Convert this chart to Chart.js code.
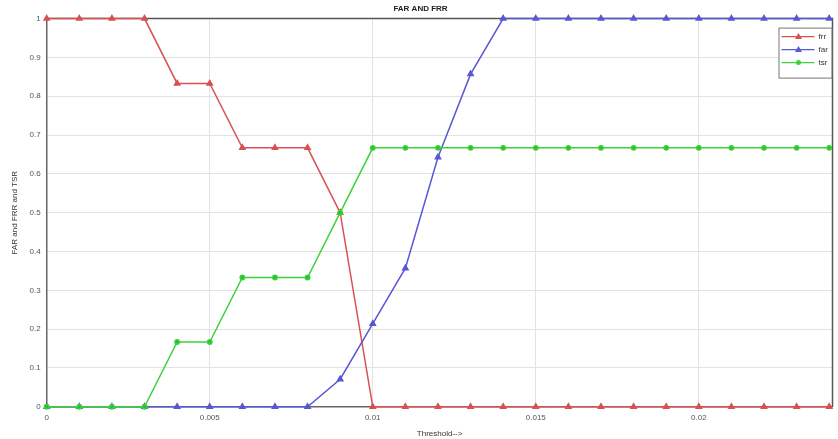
<!DOCTYPE html>
<html>
<head>
<meta charset="utf-8">
<script src="https://cdn.jsdelivr.net/npm/chart.js@4.4.1/dist/chart.umd.min.js"></script>
<style>
    html, body { margin: 0; padding: 0; background: #fff; }
    canvas { display: block; }
</style>
</head>
<body>
<canvas id="farFrrChart" width="838" height="439"></canvas>
<script>
    // threshold values along x
    const thresholds = [0, 0.001, 0.002, 0.003, 0.004, 0.005, 0.006, 0.007, 0.008, 0.009, 0.010, 0.011,
        0.012, 0.013, 0.014, 0.015, 0.016, 0.017, 0.018, 0.019, 0.020, 0.021, 0.022, 0.023, 0.024];
    const frrValues = [1, 1, 1, 1, 0.833, 0.833, 0.667, 0.667, 0.667, 0.5, 0, 0,
        0, 0, 0, 0, 0, 0, 0, 0, 0, 0, 0, 0, 0];
    const farValues = [0, 0, 0, 0, 0, 0, 0, 0, 0, 0.071, 0.214, 0.357,
        0.643, 0.857, 1, 1, 1, 1, 1, 1, 1, 1, 1, 1, 1];
    const tsrValues = [0, 0, 0, 0, 0.167, 0.167, 0.333, 0.333, 0.333, 0.5, 0.667, 0.667,
        0.667, 0.667, 0.667, 0.667, 0.667, 0.667, 0.667, 0.667, 0.667, 0.667, 0.667, 0.667, 0.667];
    const xTickValues = [0, 0.005, 0.01, 0.015, 0.02];
    const yTickValues = [0, 0.1, 0.2, 0.3, 0.4, 0.5, 0.6, 0.7, 0.8, 0.9, 1];

    const toPoints = values => values.map((v, i) => ({ x: thresholds[i], y: v }));

    Chart.defaults.font.family = '"Liberation Sans", Arial, sans-serif';
    Chart.defaults.font.size = 8;
    Chart.defaults.color = '#555';

    // matlab style legend box in the upper right corner of the plot
    const boxLegend = {
        id: 'boxLegend',
        afterDraw(chart) {
            const ctx = chart.ctx;
            const area = chart.chartArea;
            const w = 53, h = 50;
            const x0 = area.right - w - 1, y0 = area.top + 9;
            ctx.save();
            ctx.fillStyle = '#fff';
            ctx.strokeStyle = '#777';
            ctx.lineWidth = 1;
            ctx.fillRect(x0, y0, w, h);
            ctx.strokeRect(x0 + 0.5, y0 + 0.5, w, h);
            chart.data.datasets.forEach((ds, i) => {
                const y = y0 + 9 + i * 13;
                ctx.strokeStyle = ds.borderColor;
                ctx.lineWidth = 1.2;
                ctx.beginPath();
                ctx.moveTo(x0 + 3, y);
                ctx.lineTo(x0 + 36, y);
                ctx.stroke();
                ctx.fillStyle = ds.borderColor;
                ctx.beginPath();
                if (ds.pointStyle === 'triangle') {
                    ctx.moveTo(x0 + 20, y - 3.5);
                    ctx.lineTo(x0 + 23.5, y + 2.5);
                    ctx.lineTo(x0 + 16.5, y + 2.5);
                    ctx.closePath();
                } else {
                    ctx.arc(x0 + 20, y, 2.5, 0, Math.PI * 2);
                }
                ctx.fill();
                ctx.fillStyle = '#333';
                ctx.textBaseline = 'middle';
                ctx.textAlign = 'left';
                ctx.font = '8px "Liberation Sans", Arial, sans-serif';
                ctx.fillText(ds.label, x0 + 40, y);
            });
            ctx.restore();
        }
    };

    // top and right frame lines
    const boxFrame = {
        id: 'boxFrame',
        beforeDatasetsDraw(chart) {
            const ctx = chart.ctx;
            const a = chart.chartArea;
            ctx.save();
            ctx.strokeStyle = '#555';
            ctx.lineWidth = 1.5;
            ctx.beginPath();
            ctx.moveTo(a.left, a.top);
            ctx.lineTo(a.right, a.top);
            ctx.lineTo(a.right, a.bottom);
            ctx.stroke();
            ctx.restore();
        }
    };

    const ctx = document.getElementById('farFrrChart').getContext('2d');
    new Chart(ctx, {
        type: 'line',
        data: {
            datasets: [
                {
                    label: 'frr',
                    data: toPoints(frrValues),
                    borderColor: 'rgb(214, 82, 82)',
                    backgroundColor: 'rgb(214, 82, 82)',
                    borderWidth: 1.5,
                    pointStyle: 'triangle',
                    pointRadius: 3,
                    tension: 0,
                    clip: false,
                    order: 3
                },
                {
                    label: 'far',
                    data: toPoints(farValues),
                    borderColor: 'rgb(88, 88, 210)',
                    backgroundColor: 'rgb(88, 88, 210)',
                    borderWidth: 1.5,
                    pointStyle: 'triangle',
                    pointRadius: 3,
                    tension: 0,
                    clip: false,
                    order: 2
                },
                {
                    label: 'tsr',
                    data: toPoints(tsrValues),
                    borderColor: 'rgb(60, 210, 60)',
                    backgroundColor: 'rgb(40, 190, 40)',
                    borderWidth: 1.5,
                    pointStyle: 'circle',
                    pointRadius: 2.2,
                    tension: 0,
                    clip: false,
                    order: 1
                }
            ]
        },
        options: {
            responsive: false,
            animation: false,
            maintainAspectRatio: false,
            layout: {
                padding: { left: 6, right: 3, top: 0, bottom: 0 }
            },
            scales: {
                x: {
                    type: 'linear',
                    min: 0,
                    max: 0.0241,
                    afterBuildTicks: axis => {
                        axis.ticks = xTickValues.map(v => ({ value: v }));
                    },
                    ticks: {
                        autoSkip: false,
                        callback: v => String(Number(v.toFixed(3))),
                        padding: 6,
                        maxRotation: 0
                    },
                    grid: {
                        color: '#e2e2e2',
                        drawTicks: false
                    },
                    border: { color: '#666', width: 1.5 },
                    title: {
                        display: true,
                        text: 'Threshold-->',
                        color: '#333',
                        padding: { top: 1, bottom: 0 }
                    }
                },
                y: {
                    min: 0,
                    max: 1,
                    afterBuildTicks: axis => {
                        axis.ticks = yTickValues.map(v => ({ value: v }));
                    },
                    ticks: {
                        autoSkip: false,
                        callback: v => String(Number(v.toFixed(1))),
                        padding: 6
                    },
                    grid: {
                        color: '#e2e2e2',
                        drawTicks: false
                    },
                    border: { color: '#666', width: 1.5 },
                    title: {
                        display: true,
                        text: 'FAR and FRR and TSR',
                        color: '#333',
                        padding: { top: 4, bottom: 4 }
                    }
                }
            },
            plugins: {
                legend: { display: false },
                tooltip: { enabled: false },
                title: {
                    display: true,
                    text: 'FAR AND FRR',
                    color: '#222',
                    font: { weight: 'bold', size: 8 },
                    padding: { top: 4, bottom: 5 }
                }
            }
        },
        plugins: [boxFrame, boxLegend]
    });
</script>
</body>
</html>
